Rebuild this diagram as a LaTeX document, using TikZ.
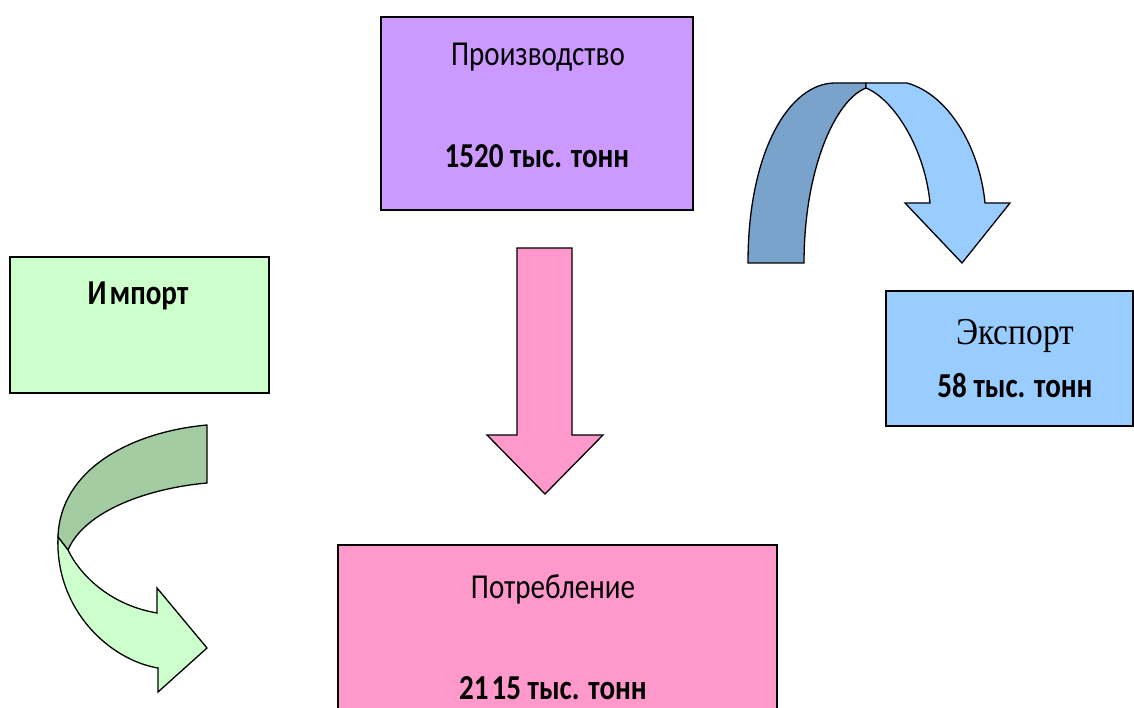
\documentclass[tikz,border=0pt]{standalone}
\usepackage{fontspec}
\setmainfont{Carlito}[FakeStretch=0.83]
\newfontfamily\serifcyr{Liberation Serif}[FakeStretch=0.88]
\definecolor{prodc}{HTML}{CC99FF}
\definecolor{impc}{HTML}{CCFFCC}
\definecolor{impd}{HTML}{A3CCA3}
\definecolor{expc}{HTML}{99CCFF}
\definecolor{expd}{HTML}{7AA3CC}
\definecolor{consc}{HTML}{FF99CC}
\begin{document}
\begin{tikzpicture}[x=1pt,y=-1pt,
  box/.style={draw=black,line width=1.6pt},
  shp/.style={draw=black,line width=1.3pt,line join=miter},
  lbl/.style={anchor=base,inner sep=0pt,font=\fontsize{35}{40}\selectfont},
  lblb/.style={lbl,font=\fontsize{35}{40}\selectfont\bfseries}]
\useasboundingbox[fill=white] (0,0) rectangle (1134,708);
% boxes
\path[box,fill=prodc] (381,17) rectangle (693,210);
\path[box,fill=impc] (10,257) rectangle (269,393);
\path[box,fill=expc] (886,291) rectangle (1133,426);
\path[box,fill=consc] (338,545) rectangle (777,720);
% labels
\node[lbl] (prod) at (538,66) {Производство};
\node[lblb] (prodv) at (537,168) {1520 тыс. тонн};
\node[lblb] (imp) at (138,305) {И\kern3pt мпорт};
\node[lbl,font=\fontsize{38}{40}\serifcyr] (exp) at (1015,344) {Экспорт};
\node[lblb] (expv) at (1015,397) {58 тыс. тонн};
\node[lbl] (cons) at (553,598) {Потребление};
\node[lblb] (consv) at (553,699) {21\kern3pt 15 тыс. тонн};
% down arrow
\path[shp,fill=consc] (517,248) -- (572,248) -- (572,435) -- (603,435) -- (545,494) -- (487,435) -- (517,435) -- cycle;
% blue curved arrow
\path[shp,fill=expd] (748,263) -- (804,263) .. controls (804,170) and (835,100) .. (866,88)
  -- (866,83) -- (835,83) .. controls (790,83) and (748,150) .. (748,263) -- cycle;
\path[shp,fill=expc] (866,83) -- (907,83) .. controls (950,95) and (980,150) .. (985,203)
  -- (1010,203) -- (962,263) -- (905,203) -- (930,203)
  .. controls (925,150) and (895,100) .. (866,88) -- cycle;
% green curved arrow
\path[shp,fill=impd] (207,425) -- (207,483) .. controls (150,488) and (85,510) .. (68,550)
  -- (58,537) .. controls (60,470) and (130,432) .. (207,425) -- cycle;
\path[shp,fill=impc] (58,537) .. controls (55,610) and (110,660) .. (158,668)
  -- (158,692) -- (207,648) -- (157,588) -- (157,613)
  .. controls (110,605) and (80,575) .. (68,550) -- cycle;
\end{tikzpicture}
\end{document}
